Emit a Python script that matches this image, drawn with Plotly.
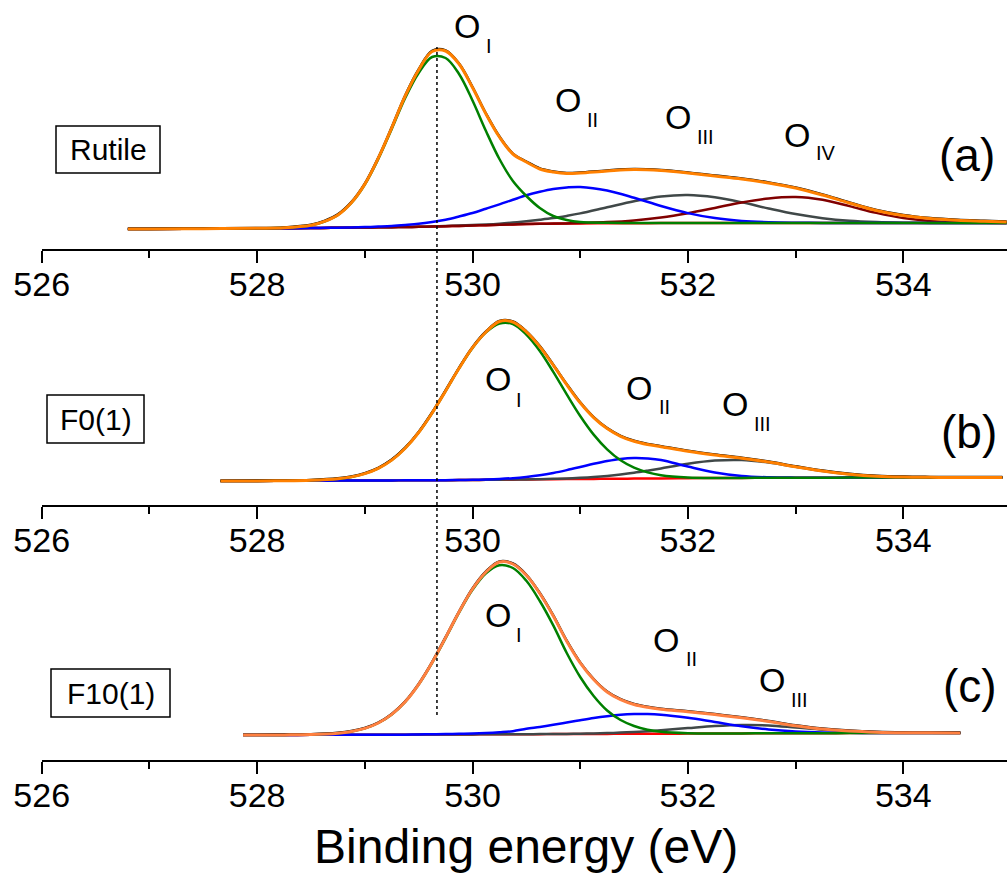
import plotly.graph_objects as go

W, H = 1007, 878

# ---------------- data (binding energy in eV, intensity in arbitrary units) -------------
# Panel (a) Rutile
xa = [526.8, 527.0, 527.5, 528.0, 528.25, 528.5, 528.625, 528.75, 528.875, 529.0, 529.125,
      529.25, 529.375, 529.5, 529.625, 529.75, 529.875, 530.0, 530.125, 530.25, 530.375, 530.5,
      530.625, 530.75, 530.875, 531.0, 531.25, 531.5, 531.75, 532.0, 532.25, 532.5, 532.75,
      533.0, 533.25, 533.5, 533.75, 534.0, 534.25, 534.5, 534.75, 534.96]
a_fit = [0, 0.1, 0.3, 0.7, 1.2, 3.7, 7.6, 14.1, 26.3, 44.9, 70.8,
         101.2, 133, 159, 177.5, 178, 165, 141.5, 115, 92, 75, 67,
         60, 57, 55.5, 56, 58, 59.5, 58.5, 56, 53, 50, 46,
         41, 34, 26, 18.5, 13.5, 10.5, 8.8, 7.8, 7]
a_data = [0.2, 0.3, 0.6, 1.0, 1.6, 4.2, 8.0, 14.6, 26.8, 45.3, 71.2,
          101.7, 133.5, 159.5, 178.2, 178.6, 165.4, 142, 115.5, 92.5, 75.4, 67.5,
          60.6, 57.6, 56, 56.5, 58.6, 60, 59, 56.6, 53.6, 50.5, 46.6,
          41.6, 34.6, 26.5, 19, 14, 10.9, 9.2, 8.2, 7.4]
a_O1 = [0, 0.1, 0.3, 0.7, 1.2, 3.7, 7.5, 14, 26, 44.5, 70,
        100, 131, 156, 172, 171, 155, 128.5, 98, 70, 48, 33,
        21, 13, 9, 7, 6.2, 6, 6, 6, 6, 6, 6,
        6, 6, 6, 6, 6, 6, 6, 6, 6]
a_O2 = [0, 0.1, 0.3, 0.6, 0.8, 1.0, 1.15, 1.3, 1.6, 1.9, 2.4,
        3.0, 4.0, 5.2, 7.0, 9.3, 12.5, 16, 20.3, 24.6, 29.2, 33.7,
        37.2, 40, 41.5, 42, 38.5, 31.3, 23, 15.9, 10.9, 8.1, 6.8,
        6.3, 6.1, 6, 6, 6, 6, 6, 6, 6]
a_O3 = [0, 0.1, 0.3, 0.6, 0.8, 1.0, 1.1, 1.2, 1.35, 1.5, 1.65,
        1.8, 2.0, 2.2, 2.5, 2.9, 3.4, 3.9, 4.5, 5.3, 6.4, 7.7,
        9.2, 10.9, 13.1, 15.6, 21.7, 27.8, 32.5, 34, 31.7, 26.7, 20.5,
        14.9, 10.8, 8.2, 6.9, 6.3, 6.1, 6, 6, 6]
a_O4 = [0, 0.1, 0.3, 0.6, 0.8, 1.0, 1.1, 1.2, 1.35, 1.5, 1.65,
        1.8, 2.0, 2.2, 2.4, 2.7, 3.1, 3.5, 3.85, 4.2, 4.6, 5.05,
        5.2, 5.4, 5.6, 6.0, 6.9, 8.6, 11.5, 15.8, 21.1, 26.6, 30.6,
        32, 29.2, 22.9, 16.1, 10.9, 8, 6.7, 6.2, 6.05]
a_bg = [0, 0.1, 0.3, 0.6, 0.8, 1.0, 1.1, 1.2, 1.35, 1.5, 1.65,
        1.8, 2.0, 2.2, 2.4, 2.7, 3.1, 3.5, 3.85, 4.2, 4.6, 5.0,
        5.15, 5.3, 5.4, 5.5, 5.7, 5.8, 5.9, 6, 6, 6, 6,
        6, 6, 6, 6, 6, 6, 6, 6, 6]

# Panel (b) F0(1)
xb = [527.66, 528.0, 528.25, 528.5, 528.75, 528.875, 529.0, 529.125, 529.25, 529.375, 529.5,
      529.625, 529.75, 529.875, 530.0, 530.125, 530.25, 530.375, 530.5, 530.625, 530.75,
      530.875, 531.0, 531.125, 531.25, 531.375, 531.5, 531.625, 531.75, 532.0, 532.25, 532.5,
      532.75, 533.0, 533.25, 533.5, 533.75, 534.0, 534.25, 534.5, 534.92]
b_fit = [0, 0.1, 0.2, 0.7, 2.2, 4.1, 7.4, 12.7, 20.9, 32.8, 48.5,
         68, 90.1, 112.7, 133.3, 149, 159.5, 159, 149.1, 134.4, 115.8,
         96.3, 78.2, 63.4, 52.4, 44.7, 39.7, 36.5, 34.3, 29.7, 26, 22.8,
         18.9, 14.25, 9.9, 6.8, 4.8, 3.9, 3.65, 3.55, 3.5]
b_data = [0.3, 0.4, 0.5, 1.1, 2.7, 4.6, 7.9, 13.2, 21.4, 33.3, 49,
          68.5, 90.6, 113.2, 133.8, 149.5, 160, 159.5, 149.6, 134.9, 116.3,
          96.8, 78.7, 63.9, 52.9, 45.2, 40.2, 37, 34.8, 30.2, 26.5, 23.3,
          19.4, 14.7, 10.4, 7.3, 5.3, 4.4, 4.1, 4.0, 3.9]
b_O1 = [0, 0.1, 0.2, 0.7, 2.2, 4.1, 7.4, 12.7, 20.9, 32.8, 48.5,
        68, 90, 112.6, 133.1, 148.6, 157.5, 157, 146.4, 130, 109.1,
        86.6, 65, 46.4, 31.7, 20.7, 13.3, 8.6, 5.8, 3.55, 3.05, 3.1,
        3.2, 3.3, 3.3, 3.4, 3.4, 3.4, 3.5, 3.5, 3.5]
b_O2 = [0, 0.1, 0.2, 0.3, 0.4, 0.45, 0.5, 0.55, 0.6, 0.65, 0.7,
        0.77, 0.85, 1.0, 1.2, 1.55, 2.05, 2.85, 4.1, 5.8, 8.1,
        10.9, 14, 17.2, 20, 22.1, 23, 22.6, 21.1, 14.5, 8.5, 5,
        3.7, 3.35, 3.3, 3.4, 3.4, 3.4, 3.5, 3.5, 3.5]
b_O3 = [0, 0.1, 0.2, 0.3, 0.4, 0.45, 0.5, 0.55, 0.6, 0.65, 0.7,
        0.75, 0.8, 0.9, 1.0, 1.15, 1.3, 1.45, 1.6, 1.85, 2.2,
        2.6, 3.2, 4.0, 5.1, 6.5, 8.2, 10.3, 12.6, 17.2, 20.4, 20.9,
        18.4, 14.2, 9.9, 6.8, 4.8, 3.9, 3.65, 3.55, 3.5]
b_bg = [0, 0.1, 0.2, 0.3, 0.4, 0.45, 0.5, 0.55, 0.6, 0.65, 0.7,
        0.75, 0.8, 0.9, 1.0, 1.15, 1.25, 1.35, 1.5, 1.65, 1.8,
        1.9, 2.0, 2.1, 2.2, 2.3, 2.4, 2.5, 2.6, 2.8, 3.0, 3.1,
        3.2, 3.3, 3.3, 3.4, 3.4, 3.4, 3.5, 3.5, 3.5]

# Panel (c) F10(1)
xc = [527.87, 528.0, 528.25, 528.5, 528.75, 528.875, 529.0, 529.125, 529.25, 529.375, 529.5,
      529.625, 529.75, 529.875, 530.0, 530.125, 530.25, 530.375, 530.5, 530.625, 530.75,
      530.875, 531.0, 531.125, 531.25, 531.375, 531.5, 531.625, 531.75, 532.0, 532.25, 532.5,
      532.75, 533.0, 533.25, 533.5, 533.75, 534.0, 534.25, 534.53]
c_fit = [0, 0.05, 0.1, 0.45, 1.8, 3.5, 6.6, 12, 20.6, 33.2, 50.7,
         72.5, 97.4, 123, 146, 163, 173, 171, 159.7, 141.5, 119.1,
         93.8, 72.1, 55.5, 43, 35.3, 30.5, 27.7, 25.8, 23.2, 20.4, 17.2,
         13.5, 9.3, 6.0, 4.0, 2.85, 2.3, 2.15, 2.05]
c_data = [0.2, 0.3, 0.5, 0.8, 2.2, 3.9, 7.0, 12.4, 21, 33.6, 51.1,
          72.9, 97.8, 123.4, 146.5, 163.5, 173.6, 171.5, 160.2, 142, 119.6,
          94.3, 72.6, 56, 43.5, 35.8, 31, 28.2, 26.3, 23.7, 20.9, 17.7,
          14, 9.8, 6.5, 4.5, 3.3, 2.7, 2.5, 2.4]
c_O1 = [0, 0.05, 0.1, 0.45, 1.8, 3.5, 6.6, 12, 20.6, 33.2, 50.4,
        72.1, 96.8, 122.3, 145.1, 161.7, 169.8, 167, 154.2, 134, 109.6,
        82, 58, 39, 24.5, 15, 9, 5.3, 3.3, 1.85, 1.5, 1.6,
        1.7, 1.8, 1.85, 1.9, 1.95, 2, 2, 2]
c_O2 = [0, 0.05, 0.1, 0.15, 0.2, 0.22, 0.25, 0.27, 0.3, 0.35, 0.55,
        0.75, 0.96, 1.2, 1.4, 1.9, 2.7, 3.8, 6.2, 8.1, 10.2,
        12.5, 14.8, 17, 18.8, 20.2, 20.9, 21, 20.3, 17.2, 13, 8.8,
        5.6, 3.6, 2.6, 2.2, 2.0, 2, 2, 2]
c_O3 = [0, 0.05, 0.1, 0.15, 0.2, 0.22, 0.25, 0.27, 0.3, 0.35, 0.4,
        0.45, 0.5, 0.55, 0.6, 0.65, 0.7, 0.75, 0.8, 0.9, 1.0,
        1.1, 1.3, 1.55, 1.9, 2.4, 3.0, 3.8, 4.8, 6.9, 8.9, 10,
        9.6, 7.5, 5.3, 3.7, 2.8, 2.3, 2.15, 2.05]
c_bg = [0, 0.05, 0.1, 0.15, 0.2, 0.22, 0.25, 0.27, 0.3, 0.35, 0.4,
        0.45, 0.5, 0.55, 0.6, 0.65, 0.7, 0.75, 0.8, 0.85, 0.9,
        0.95, 1.0, 1.05, 1.1, 1.15, 1.2, 1.25, 1.3, 1.4, 1.5, 1.6,
        1.7, 1.8, 1.85, 1.9, 1.95, 2, 2, 2]

x_ticks = [526, 528, 530, 532, 534]
ref_energy = 529.67  # dotted reference line (O_I of rutile)

# ---------------- styling ----------------
FONT = "Liberation Sans, Arial, sans-serif"
C_DATA = "#000000"
C_FIT = "#FF8000"
C_FIT_C = "#FF8040"
C_O1 = "#008000"
C_O2 = "#0000FF"
C_O3 = "#404848"
C_O4 = "#800000"
C_BG = "#FF0000"

fig = go.Figure()


def add_line(x, y, color, width, axis):
    fig.add_trace(go.Scatter(x=x, y=y, mode="lines",
                             line=dict(color=color, width=width, shape="spline", smoothing=1.0),
                             xaxis="x" + axis, yaxis="y" + axis, showlegend=False,
                             hoverinfo="skip"))


# panel a
add_line(xa, a_bg, C_BG, 2.5, "")
add_line(xa, a_O3, C_O3, 2.5, "")
add_line(xa, a_O4, C_O4, 2.5, "")
add_line(xa, a_O2, C_O2, 2.5, "")
add_line(xa, a_O1, C_O1, 2.5, "")
add_line(xa, a_data, C_DATA, 2.5, "")
add_line(xa, a_fit, C_FIT, 3, "")
# panel b
add_line(xb, b_bg, C_BG, 2.5, "2")
add_line(xb, b_O3, C_O3, 2.5, "2")
add_line(xb, b_O2, C_O2, 2.5, "2")
add_line(xb, b_O1, C_O1, 2.5, "2")
add_line(xb, b_data, C_DATA, 2.5, "2")
add_line(xb, b_fit, C_FIT, 3, "2")
# panel c
add_line(xc, c_bg, C_BG, 2.5, "3")
add_line(xc, c_O3, C_O3, 2.5, "3")
add_line(xc, c_O2, C_O2, 2.5, "3")
add_line(xc, c_O1, C_O1, 2.5, "3")
add_line(xc, c_data, C_DATA, 2.5, "3")
add_line(xc, c_fit, C_FIT_C, 3, "3")


def px(xpix):
    return xpix / W


def py(ypix):
    return 1 - ypix / H


x_dom = [px(41.7), 1.0]
x_rng = [526, 526 + (W - 41.7) / 107.7]


def xaxis_cfg(anchor):
    return dict(domain=x_dom, range=x_rng, anchor=anchor, showline=True, linecolor="black",
                linewidth=2, ticks="outside", ticklen=12, tickwidth=2, tickcolor="black",
                tickvals=x_ticks, ticktext=[str(v) for v in x_ticks],
                tickfont=dict(family=FONT, size=34, color="black"), ticklabelstandoff=-8,
                minor=dict(ticks="outside", ticklen=7, tickwidth=2, tickcolor="black", dtick=1, tick0=526),
                showgrid=False, zeroline=False, automargin=False, fixedrange=True)


def yaxis_cfg(top_pix, bot_pix, baseline_pix, anchor):
    return dict(domain=[py(bot_pix), py(top_pix)],
                range=[-(bot_pix - baseline_pix), baseline_pix - top_pix],
                visible=False, anchor=anchor, automargin=False, fixedrange=True)


annotations = []


def text(xpix, ypix, s, size, xanchor="center"):
    annotations.append(dict(x=px(xpix), y=py(ypix), xref="paper", yref="paper", text=s,
                            showarrow=False, xanchor=xanchor, yanchor="middle",
                            font=dict(family=FONT, size=size, color="black")))


def olabel(ox, oy, sub, sx, sy):
    text(ox, oy, "O", 34)
    text(sx, sy, sub, 20, xanchor="left")


# O labels
olabel(466.5, 25.5, "I", 484, 46)
olabel(567.5, 99.5, "II", 585, 119.5)
olabel(677.5, 116.5, "III", 695, 137)
olabel(797, 134.5, "IV", 814, 152.5)
olabel(497.5, 378.5, "I", 514, 400)
olabel(639, 387.5, "II", 657, 406.5)
olabel(735, 404.5, "III", 752, 423.5)
olabel(497.5, 614.5, "I", 514, 634.5)
olabel(665.5, 640, "II", 684, 659)
olabel(771.5, 679.5, "III", 789, 699.5)

# panel letters
text(967, 155, "(a)", 46)
text(969, 432, "(b)", 46)
text(970, 686, "(c)", 46)

# sample names (boxed)
boxes = [("Rutile", 56, 160, 126, 173), ("F0(1)", 47, 144, 395, 443), ("F10(1)", 51, 170, 669, 717)]
shapes = []
for name, x0, x1, y0, y1 in boxes:
    text((x0 + x1) / 2, (y0 + y1) / 2, name, 30)
    shapes.append(dict(type="rect", xref="paper", yref="paper", x0=px(x0), x1=px(x1),
                       y0=py(y1), y1=py(y0), line=dict(color="black", width=1.5)))

# dotted reference line
shapes.append(dict(type="line", xref="x", yref="paper", x0=ref_energy, x1=ref_energy,
                   y0=py(715), y1=py(47), line=dict(color="black", width=1.5, dash="dot"),
                   layer="above"))

# axis title
text(526, 846, "Binding energy (eV)", 48)

fig.update_layout(
    width=W, height=H, margin=dict(l=0, r=0, t=0, b=0),
    paper_bgcolor="white", plot_bgcolor="white", template="none",
    xaxis=xaxis_cfg("y"), yaxis=yaxis_cfg(0, 249, 229, "x"),
    xaxis2=xaxis_cfg("y2"), yaxis2=yaxis_cfg(300, 505, 481, "x2"),
    xaxis3=xaxis_cfg("y3"), yaxis3=yaxis_cfg(555, 760, 735, "x3"),
    annotations=annotations, shapes=shapes, showlegend=False,
)

fig.write_html("out.html", config={"displayModeBar": False},
               post_script="document.body.style.margin='0';document.body.style.padding='0';")
